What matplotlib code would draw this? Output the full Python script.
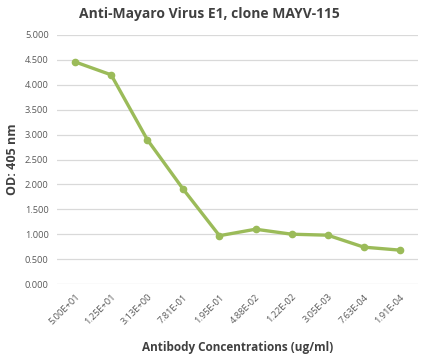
import matplotlib.pyplot as plt

# Data
concentrations = ["5.00E+01", "1.25E+01", "3.13E+00", "7.81E-01", "1.95E-01",
                  "4.88E-02", "1.22E-02", "3.05E-03", "7.63E-04", "1.91E-04"]
od_405 = [4.46, 4.20, 2.90, 1.90, 0.97, 1.10, 1.00, 0.98, 0.74, 0.68]
y_ticks = [0, 0.5, 1.0, 1.5, 2.0, 2.5, 3.0, 3.5, 4.0, 4.5, 5.0]

plt.rcParams['font.family'] = ['Open Sans', 'DejaVu Sans']

fig = plt.figure(figsize=(4.28, 3.6), dpi=100)
ax = fig.add_axes([57 / 428, 1 - 284 / 360, 361 / 428, 249 / 360])

x = list(range(len(concentrations)))
ax.plot(x, od_405, color="#9BBB59", linewidth=2.4, marker="o", markersize=4.5,
        solid_capstyle="round", zorder=3)

ax.set_xlim(-0.5, len(concentrations) - 0.5)
ax.set_ylim(0, 5.0)
ax.set_yticks(y_ticks)
ax.set_yticklabels([f"{v:.3f}" for v in y_ticks])
ax.set_xticks(x)
ax.set_xticklabels(concentrations, rotation=45, ha="right", rotation_mode="anchor")

ax.grid(axis="y", color="#D9D9D9", linewidth=0.9)
ax.set_axisbelow(True)
for s in ax.spines.values():
    s.set_visible(False)
ax.tick_params(axis="both", length=0, labelsize=6.7, colors="#595959", pad=6)

ax.set_ylabel("OD: 405 nm", fontsize=9, fontweight="bold", color="#404040", labelpad=4)
ax.set_xlabel("Antibody Concentrations (ug/ml)", fontsize=8.5, fontweight="bold",
              color="#404040", labelpad=10)
fig.text(0.49, 1 - 14 / 360, "Anti-Mayaro Virus E1, clone MAYV-115", ha="center", va="center",
         fontsize=10, fontweight="bold", color="#404040")

fig.savefig("out.png", dpi=100)
